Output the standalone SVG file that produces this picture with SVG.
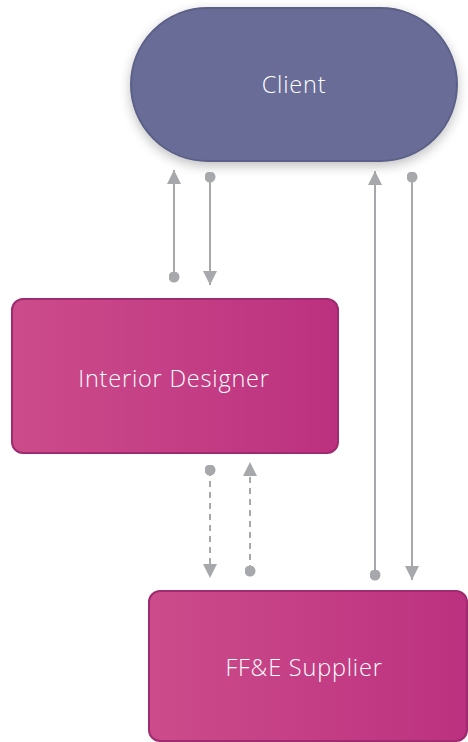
<svg xmlns="http://www.w3.org/2000/svg" width="468" height="742" viewBox="0 0 468 742">
<style>
.lbl{font-family:"Open Sans","Liberation Sans",Arial,sans-serif;font-weight:300;font-size:23.5px;letter-spacing:0.8px;fill:#ffffff;text-anchor:middle;dominant-baseline:central}
.conn{stroke:#a7a8ab;stroke-width:2;fill:none}
.dash{stroke-dasharray:6,5}
.pink{fill:url(#pg);stroke:#9e2b70;stroke-width:2}
</style>
<defs>
<linearGradient id="pg" x1="0" y1="0" x2="1" y2="0">
<stop offset="0" stop-color="#cc4c8b"/>
<stop offset="1" stop-color="#bc317f"/>
</linearGradient>
<filter id="sh" x="-20%" y="-20%" width="140%" height="160%">
<feGaussianBlur in="SourceAlpha" stdDeviation="6"/>
<feOffset dy="4"/>
<feComponentTransfer><feFuncA type="linear" slope="0.25"/></feComponentTransfer>
<feMerge><feMergeNode/><feMergeNode in="SourceGraphic"/></feMerge>
</filter>
<marker id="arr" viewBox="0 0 10 10" refX="10" refY="5" markerWidth="14" markerHeight="14" markerUnits="userSpaceOnUse" orient="auto">
<path d="M0,0 L10,5 L0,10 z" fill="#a7a8ab"/>
</marker>
<marker id="dot" viewBox="0 0 10 10" refX="5" refY="5" markerWidth="11" markerHeight="11" markerUnits="userSpaceOnUse" orient="auto">
<circle cx="5" cy="5" r="5" fill="#a7a8ab"/>
</marker>
</defs>
<g id="client">
<rect x="131" y="8" width="326" height="153" rx="76.5" fill="#676c97" stroke="#5b5f86" stroke-width="2" filter="url(#sh)"/>
<text class="lbl" x="294" y="84">Client</text>
</g>
<g id="interior-designer">
<rect class="pink" x="12" y="299" width="326" height="154" rx="11"/>
<text class="lbl" x="174" y="378">Interior Designer</text>
</g>
<g id="ffe-supplier">
<rect class="pink" x="149" y="591" width="318" height="150" rx="11"/>
<text class="lbl" x="304" y="667">FF&amp;E Supplier</text>
</g>
<g id="connectors">
<path class="conn" d="M174,277 L174,170" marker-start="url(#dot)" marker-end="url(#arr)"/>
<path class="conn" d="M210,177 L210,285" marker-start="url(#dot)" marker-end="url(#arr)"/>
<path class="conn dash" d="M210,470 L210,578" marker-start="url(#dot)" marker-end="url(#arr)"/>
<path class="conn dash" d="M250,571 L250,462" marker-start="url(#dot)" marker-end="url(#arr)"/>
<path class="conn" d="M375,575 L375,171" marker-start="url(#dot)" marker-end="url(#arr)"/>
<path class="conn" d="M412,177 L412,580" marker-start="url(#dot)" marker-end="url(#arr)"/>
</g>
</svg>
